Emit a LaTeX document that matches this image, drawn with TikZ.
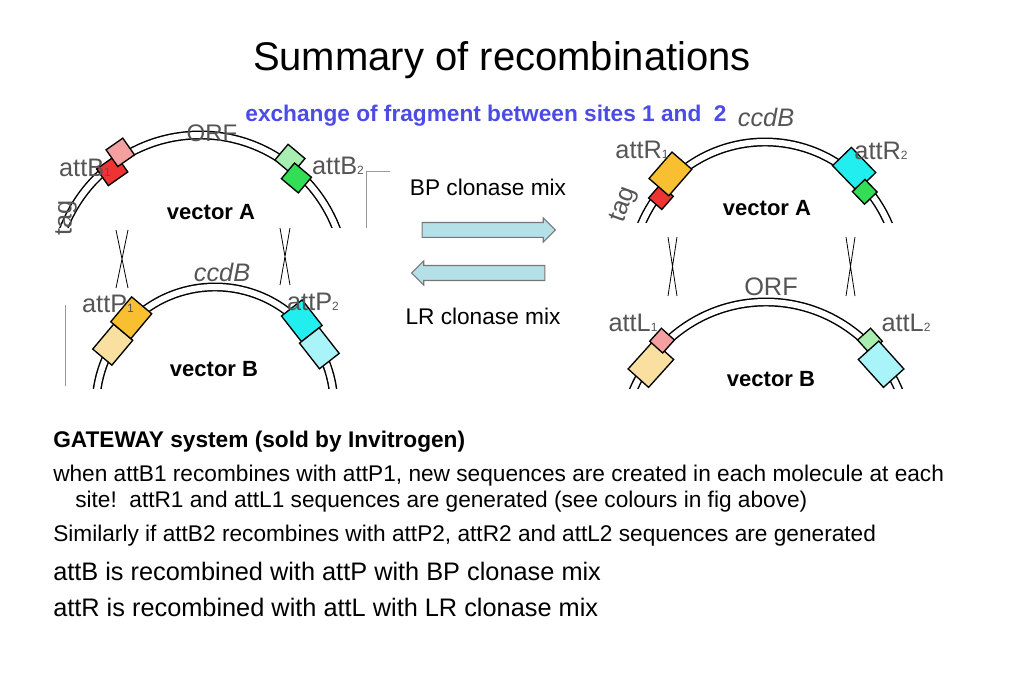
\documentclass[tikz,border=0pt]{standalone}
\usepackage{fontspec}
\setmainfont{Liberation Sans}
\usetikzlibrary{shapes.arrows,calc}
\definecolor{gr}{HTML}{555555}
\definecolor{bl}{HTML}{4B4BE6}
\definecolor{pinkc}{HTML}{F4A0A0}
\definecolor{redc}{HTML}{EE3333}
\definecolor{lgreen}{HTML}{A8EEB0}
\definecolor{greenc}{HTML}{33DD55}
\definecolor{orangec}{HTML}{F8C030}
\definecolor{yellc}{HTML}{FAE0A0}
\definecolor{cyanc}{HTML}{22EEF0}
\definecolor{lcyan}{HTML}{A8F4F8}
\definecolor{arr}{HTML}{B4E0E8}
\begin{document}
\begin{tikzpicture}[x=0.75pt,y=0.75pt,
  dna/.style={draw=black,double=white,double distance=4.5pt,line width=1.1pt},
  lab/.style={text=gr,font=\fontsize{19}{19}\selectfont,inner sep=0},
  vec/.style={font=\bfseries\fontsize{16.5}{18}\selectfont,inner sep=0},
  body/.style={font=\fontsize{17}{20}\selectfont,anchor=west,inner sep=0},
  big/.style={font=\fontsize{19}{22}\selectfont,anchor=west,inner sep=0},
  bx/.style={draw=black,line width=1pt},
  barr/.style={single arrow,draw=gr!80,fill=arr,minimum height=100pt,minimum width=18pt,single arrow head extend=3.5pt,inner sep=5.2pt,line width=0.8pt},
  cross/.style={line width=0.6pt}]
\useasboundingbox (0,0) rectangle (1024,683);
% title
\node (title) at (502,623) {\fontsize{30}{32}\selectfont Summary of recombinations};
\node[font=\bfseries\fontsize{17}{18}\selectfont,text=bl] (sub) at (486,567) {exchange of fragment between sites 1 and~~2};
% arcs
\begin{scope}\clip (0,455) rectangle (1024,683); \draw[dna] (200,402) circle (146); \end{scope}
\begin{scope}\clip (0,295) rectangle (500,683); \draw[dna] (215,277) circle (119); \end{scope}
\begin{scope}\clip (500,460) rectangle (1024,683); \draw[dna] (765,407) circle (134); \end{scope}
\begin{scope}\clip (500,295) rectangle (1024,683); \draw[dna] (766,237) circle (144); \end{scope}
% left A boxes
\begin{scope}[shift={($(200,402)+(125:146)$)},rotate=35,scale=1.7]
 \draw[bx,fill=redc] (-12,-9) rectangle (2,3);
 \draw[bx,fill=pinkc] (-1,-3) rectangle (11,9);
\end{scope}
\begin{scope}[shift={($(200,402)+(50:146)$)},rotate=-40,scale=1.7]
 \draw[bx,fill=lgreen] (-12,-3) rectangle (1,9);
 \draw[bx,fill=greenc] (-2,-9) rectangle (11,3);
\end{scope}
% left B boxes
\begin{scope}[shift={($(215,277)+(140:119)$)},rotate=50,scale=1.25]
 \draw[bx,fill=yellc] (-28,-11) rectangle (-2,9);
 \draw[bx,fill=orangec] (-2,-9) rectangle (24,12);
\end{scope}
\begin{scope}[shift={($(215,277)+(38:119)$)},rotate=-52,scale=1.25]
 \draw[bx,fill=cyanc] (-24,-9) rectangle (2,12);
 \draw[bx,fill=lcyan] (2,-11) rectangle (28,9);
\end{scope}
% right A boxes
\begin{scope}[shift={($(765,407)+(139:134)$)},rotate=49,scale=1.25]
 \draw[bx,fill=redc] (-14,-10) rectangle (0,4);
 \draw[bx,fill=orangec] (-2,-7) rectangle (26,14);
\end{scope}
\begin{scope}[shift={($(765,407)+(44:134)$)},rotate=-46,scale=1.25]
 \draw[bx,fill=cyanc] (-26,-7) rectangle (2,14);
 \draw[bx,fill=greenc] (0,-10) rectangle (14,4);
\end{scope}
% right B boxes
\begin{scope}[shift={($(766,237)+(138:144)$)},rotate=48,scale=1.25]
 \draw[bx,fill=yellc] (-28,-14) rectangle (2,8);
 \draw[bx,fill=pinkc] (0,-4) rectangle (14,10);
\end{scope}
\begin{scope}[shift={($(766,237)+(42:144)$)},rotate=-48,scale=1.25]
 \draw[bx,fill=lgreen] (-14,-4) rectangle (0,10);
 \draw[bx,fill=lcyan] (-2,-14) rectangle (28,8);
\end{scope}
% site labels
\node[lab] (orf1) at (212,550) {\fontsize{18}{18}\selectfont ORF};
\node[lab] (b1) at (85,515) {attB\small 1};
\node[lab] (b2) at (338,517) {attB\small 2};
\node[lab,rotate=90] (tag1) at (66,465) {tag};
\node[lab] (ccd1) at (222,411) {\itshape ccdB};
\node[lab] (p1) at (108,379) {attP\small 1};
\node[lab] (p2) at (313,381) {attP\small 2};
\node[lab] (ccd2) at (766,566) {\itshape ccdB};
\node[lab] (r1) at (642,533) {attR\small 1};
\node[lab] (r2) at (881,532) {attR\small 2};
\node[lab,rotate=70] (tag2) at (624,478) {tag};
\node[lab] (orf2) at (771,396) {\fontsize{19}{19}\selectfont ORF};
\node[lab] (l1) at (633,360) {attL\small 1};
\node[lab] (l2) at (906,360) {attL\small 2};
% vector labels
\node[vec] (va1) at (211,471) {vector A};
\node[vec] (vb1) at (214,314) {vector B};
\node[vec] (va2) at (767,475) {vector A};
\node[vec] (vb2) at (771,304) {vector B};
% thin gray lines
\draw[gr!60,line width=0.5pt] (390,512) -- (366,512) -- (366,455);
\draw[gr!60,line width=0.5pt] (65,378) -- (65,297);
% crosses
\draw[cross] (116,453) -- (128,395) (128,453) -- (116,395);
\draw[cross] (280,455) -- (290,398) (290,455) -- (280,398);
\draw[cross] (668,446) -- (677,387) (677,446) -- (668,387);
\draw[cross] (846,446) -- (855,387) (855,446) -- (846,387);
% reaction arrows
\node[barr] (fwd) at (485,453) {};
\node[barr,shape border rotate=180] (rev) at (482,410) {};
\node[font=\fontsize{17}{18}\selectfont] (bp) at (488,496) {BP clonase mix};
\node[font=\fontsize{17}{18}\selectfont] (lr) at (483,367) {LR clonase mix};
% text
\node[body,font=\bfseries\fontsize{17}{20}\selectfont] (gw) at (53,241) {GATEWAY system (sold by Invitrogen)};
\node[body] (t1) at (53,207) {when attB1 recombines with attP1, new sequences are created in each molecule at each};
\node[body] (t2) at (75,181) {site!~~attR1 and attL1 sequences are generated (see colours in fig above)};
\node[body] (t3) at (53,147) {Similarly if attB2 recombines with attP2, attR2 and attL2 sequences are generated};
\node[big] (t4) at (53,112) {attB is recombined with attP with BP clonase mix};
\node[big] (t5) at (53,76) {attR is recombined with attL with LR clonase mix};
\end{tikzpicture}
\end{document}
